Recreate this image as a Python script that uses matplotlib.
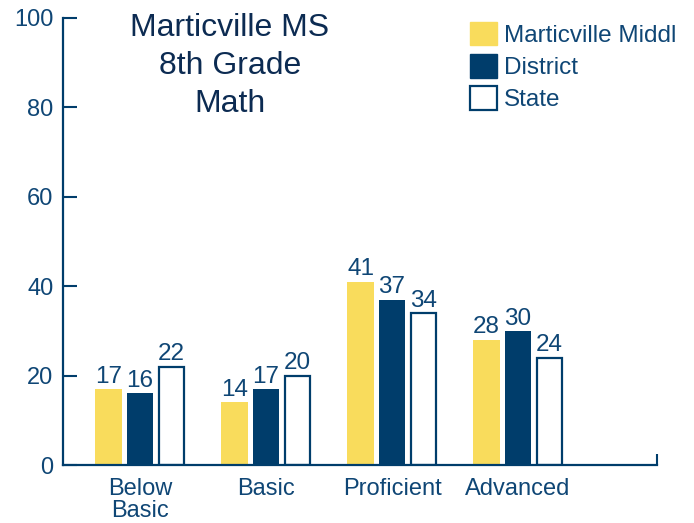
import numpy as np
from matplotlib import pyplot as plt
from matplotlib.patches import Patch

categories = ["Below\nBasic", "Basic", "Proficient", "Advanced"]
school = [17, 14, 41, 28]
district = [16, 17, 37, 30]
state = [22, 20, 34, 24]
series_names = ["Marticville Middl", "District", "State"]

navy = "#003D6B"
yellow = "#F9DC5C"
txt = "#0F4675"
title_col = "#0C2B52"

plt.rcParams['font.family'] = ['Liberation Sans', 'DejaVu Sans']

fig = plt.figure(figsize=(6.94, 5.23), dpi=100)
ax = fig.add_axes([63/694, 1 - 465/523, 594/694, 447/523])

x = np.arange(len(categories))
w = 0.214
off = 0.25
ax.bar(x - off, school, w, color=yellow, linewidth=0)
ax.bar(x, district, w, color=navy, linewidth=0)
ax.bar(x + off, state, w - 0.012, facecolor="white", edgecolor=navy, linewidth=1.6)

for xs, vals in [(x - off, school), (x, district), (x + off, state)]:
    for xi, v in zip(xs, vals):
        ax.text(xi, v + 0.3, str(v), ha='center', va='bottom', fontsize=17.5, color=txt)

xmin, xmax = -0.611, 4.103
ax.set_xlim(xmin, xmax)
ax.set_ylim(0, 100)
ax.set_yticks([0, 20, 40, 60, 80, 100])
ax.set_xticks(x)
ax.set_xticklabels(categories, linespacing=1.0)
ax.set_xticks([xmax], minor=True)

for s in ['top', 'right']:
    ax.spines[s].set_visible(False)
for s in ['left', 'bottom']:
    ax.spines[s].set_color(navy)
    ax.spines[s].set_linewidth(1.6)

ax.tick_params(axis='y', direction='in', length=10, width=1.5, color=navy,
               labelcolor=txt, labelsize=17, pad=7)
ax.tick_params(axis='x', which='major', length=0, labelcolor=txt, labelsize=17, pad=9.5)
ax.tick_params(axis='x', which='minor', direction='in', length=8, width=1.5, color=navy)

fig.text(230/694, 1 - 13/523, "Marticville MS\n8th Grade\nMath", ha='center', va='top',
         fontsize=23, color=title_col, linespacing=1.34)

handles = [Patch(facecolor=yellow, edgecolor=yellow),
           Patch(facecolor=navy, edgecolor=navy),
           Patch(facecolor="white", edgecolor=navy, linewidth=1.6)]
leg = fig.legend(handles, series_names, loc='upper left',
                 bbox_to_anchor=(470/694, 1 - 22/523), frameon=False, fontsize=17.5,
                 handlelength=1.1, handleheight=1.1, handletextpad=0.28,
                 labelspacing=0.3, borderpad=0, borderaxespad=0)
for t in leg.get_texts():
    t.set_color(txt)

fig.savefig("out.png", dpi=100)
